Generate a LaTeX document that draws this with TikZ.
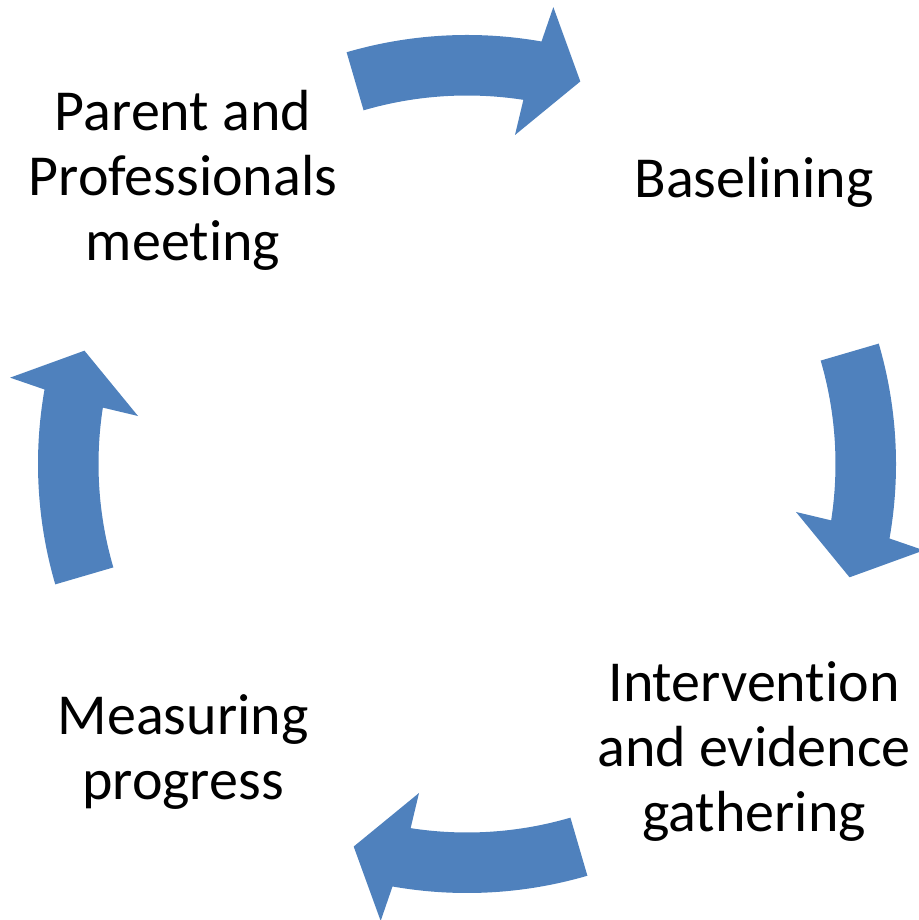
\documentclass[tikz,border=0pt]{standalone}
\usepackage{fontspec}
\setmainfont[Ligatures={NoCommon}]{Carlito}
\definecolor{arrowblue}{HTML}{4F81BD}
\tikzset{
  cyclearrow/.style={fill=arrowblue, draw=none},
  label/.style={align=center, font=\fontsize{58}{65}\selectfont, inner sep=0pt}
}
% #1 = mid angle of an arrow going clockwise
\newcommand{\cyclearrowshape}[1]{%
  \fill[cyclearrow, shift={(467pt,456pt)}]
    ({#1+16.3}:429pt) arc[start angle={#1+16.3}, end angle={#1-10.0}, radius=429pt]
    -- ({#1-10.7}:465pt) -- ({#1-16.5}:399pt) -- ({#1-8.3}:332.5pt)
    -- ({#1-8.8}:368.5pt) arc[start angle={#1-8.8}, end angle={#1+16.3}, radius=368.5pt]
    -- cycle;}
\begin{document}
\begin{tikzpicture}[x=1pt,y=1pt]
\useasboundingbox (0,0) rectangle (918,920);
\cyclearrowshape{90}
\cyclearrowshape{0}
\cyclearrowshape{-90}
\cyclearrowshape{180}
\node[label] (parent) at (183,740) {Parent and\\Professionals\\meeting};
\node[label, anchor=base] (base) at (754,722) {Baselining};
\node[label] (interv) at (754,168) {Intervention\\and evidence\\gathering};
\node[label] (measure) at (183,168) {Measuring\\progress};
\end{tikzpicture}
\end{document}
